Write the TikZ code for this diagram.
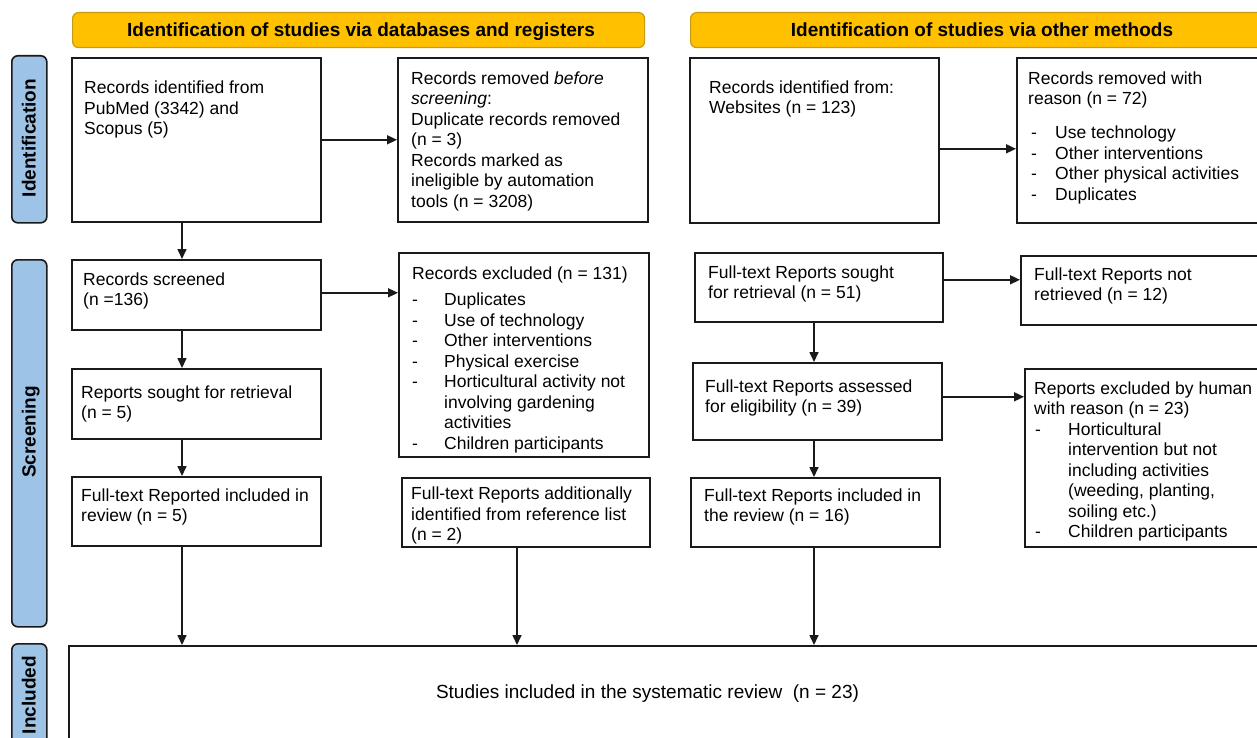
\documentclass[tikz,border=0pt]{standalone}
\usepackage{fontspec}
\setmainfont{Liberation Sans}
\usetikzlibrary{arrows.meta,calc}
\definecolor{hdr}{HTML}{FFC000}
\definecolor{hdrline}{HTML}{C89B10}
\definecolor{side}{HTML}{9DC3E6}
\definecolor{ink}{HTML}{1A1A1A}
\newcommand{\dashA}{\hspace*{3pt}\makebox[24pt][l]{-}}
\newcommand{\dashB}{\makebox[32pt][l]{-}}
\newcommand{\dashC}{\hspace*{1pt}\makebox[33pt][l]{-}}
\begin{document}
\begin{tikzpicture}[x=1pt,y=-1pt,
  box/.style={draw=ink,line width=1.6pt,fill=white,inner sep=0pt,anchor=north west},
  hdrbox/.style={draw=hdrline,line width=1.2pt,fill=hdr,rounded corners=6pt,inner sep=0pt,anchor=north west},
  sidebox/.style={draw=ink,line width=1.6pt,fill=side,rounded corners=6pt,inner sep=0pt,anchor=north west},
  txt/.style={inner sep=0pt,anchor=north west,align=left,font=\fontsize{17.5}{20.5}\selectfont},
  hdrtxt/.style={inner sep=0pt,anchor=base,font=\fontsize{19}{22}\selectfont\bfseries},
  sidetxt/.style={inner sep=0pt,anchor=base,rotate=90,font=\fontsize{19}{22}\selectfont\bfseries},
  arr/.style={draw=ink,line width=1.6pt,-{Triangle[length=10pt,width=9pt]}}]
\useasboundingbox (0,0) rectangle (1257,738);
\clip (0,0) rectangle (1257,738);
\fill[white] (0,0) rectangle (1257,738);

% headers
\node[hdrbox,minimum width=572pt,minimum height=35pt] (h1) at (72,12) {};
\node[hdrbox,minimum width=610pt,minimum height=35pt] (h2) at (690,12) {};
\node[hdrtxt] (h1t) at (361,37) {Identification of studies via databases and registers};
\node[hdrtxt] (h2t) at (982,37) {Identification of studies via other methods};

% side labels
\node[sidebox,minimum width=35pt,minimum height=167pt] (s1) at (11,55) {};
\node[sidebox,minimum width=35pt,minimum height=367pt] (s2) at (11,259) {};
\node[sidebox,minimum width=35pt,minimum height=157pt] (s3) at (11,643) {};
\node[sidetxt] (s1t) at (35.5,138) {Identification};
\node[sidetxt] (s2t) at (35.5,432) {Screening};
\node[sidetxt] (s3t) at (35.5,695) {Included};

% boxes
\node[box,minimum width=249pt,minimum height=164pt] (b1) at (71,57) {};
\node[box,minimum width=250pt,minimum height=164pt] (b2) at (397,57) {};
\node[box,minimum width=249pt,minimum height=165pt] (b3) at (689,57) {};
\node[box,minimum width=284pt,minimum height=165pt] (b4) at (1016,57) {};
\node[box,minimum width=249pt,minimum height=70pt] (b5) at (71,259) {};
\node[box,minimum width=249pt,minimum height=70pt] (b6) at (71,368) {};
\node[box,minimum width=249pt,minimum height=69pt] (b7) at (71,476) {};
\node[box,minimum width=250pt,minimum height=204pt] (b8) at (398,252) {};
\node[box,minimum width=248pt,minimum height=69pt] (b9) at (401,477) {};
\node[box,minimum width=248pt,minimum height=69pt] (b10) at (694,252) {};
\node[box,minimum width=280pt,minimum height=69pt] (b11) at (1020,255) {};
\node[box,minimum width=249pt,minimum height=77pt] (b12) at (692,362) {};
\node[box,minimum width=249pt,minimum height=69pt] (b13) at (690,477) {};
\node[box,minimum width=276pt,minimum height=178pt] (b14) at (1024,368) {};
\node[box,minimum width=1232pt,minimum height=155pt] (fin) at (68,645) {};

% texts
\node[txt] (t1) at (84,81) {Records identified from\\PubMed (3342) and\\Scopus (5)};
\node[txt] (t2) at (411,71.5) {Records removed \textit{before}\\\textit{screening}:\\Duplicate records removed\\(n = 3)\\Records marked as\\ineligible by automation\\tools (n = 3208)};
\node[txt] (t3) at (709,80.5) {Records identified from:\\Websites (n = 123)};
\node[txt] (t4) at (1028,71.5) {Records removed with\\reason (n = 72)\\[13.5pt]\dashA Use technology\\\dashA Other interventions\\\dashA Other physical activities\\\dashA Duplicates};
\node[txt] (t5) at (83,272.5) {Records screened\\(n =136)};
\node[txt] (t6) at (81,385.5) {Reports sought for retrieval\\(n = 5)};
\node[txt] (t7) at (81,488.5) {Full-text Reported included in\\review (n = 5)};
\node[txt] (t8) at (412,266.2) {Records excluded (n = 131)\\[6pt]\dashB Duplicates\\\dashB Use of technology\\\dashB Other interventions\\\dashB Physical exercise\\\dashB Horticultural activity not\\\hspace*{32pt}involving gardening\\\hspace*{32pt}activities\\\dashB Children participants};
\node[txt] (t9) at (411,486.8) {Full-text Reports additionally\\identified from reference list\\(n = 2)};
\node[txt] (t10) at (708,265.5) {Full-text Reports sought\\for retrieval (n = 51)};
\node[txt] (t11) at (1034,267.5) {Full-text Reports not\\retrieved (n = 12)};
\node[txt] (t12) at (705,379.5) {Full-text Reports assessed\\for eligibility (n = 39)};
\node[txt] (t13) at (704,488.5) {Full-text Reports included in\\the review (n = 16)};
\node[txt] (t14) at (1034,381.5) {Reports excluded by human\\with reason (n = 23)\\\dashC Horticultural\\\hspace*{34pt}intervention but not\\\hspace*{34pt}including activities\\\hspace*{34pt}(weeding, planting,\\\hspace*{34pt}soiling etc.)\\\dashC Children participants};
\node[inner sep=0pt,font=\fontsize{19}{22}\selectfont] (tf) at (647.5,694) {Studies included in the systematic review\ \ (n = 23)};

% connector columns
\coordinate (xa) at (182,0);
\coordinate (xb) at (517,0);
\coordinate (xc) at (814,0);

% horizontal arrows
\draw[arr] (b1.east) -- (b1.east -| b2.west);
\draw[arr] ([yshift=-8.5pt]b3.east) -- ([yshift=-8.5pt]b3.east -| b4.west);
\draw[arr] ([yshift=2pt]b5.east) -- ([yshift=2pt]b5.east -| b8.west);
\draw[arr] ([yshift=7.5pt]b10.east) -- ([yshift=7.5pt]b10.east -| b11.west);
\draw[arr] ([yshift=4.5pt]b12.east) -- ([yshift=4.5pt]b12.east -| b14.west);

% vertical arrows
\draw[arr] (b1.south -| xa) -- (b5.north -| xa);
\draw[arr] (b5.south -| xa) -- (b6.north -| xa);
\draw[arr] (b6.south -| xa) -- (b7.north -| xa);
\draw[arr] (b7.south -| xa) -- (fin.north -| xa);
\draw[arr] (b9.south -| xb) -- (fin.north -| xb);
\draw[arr] (b10.south -| xc) -- (b12.north -| xc);
\draw[arr] (b12.south -| xc) -- (b13.north -| xc);
\draw[arr] (b13.south -| xc) -- (fin.north -| xc);
\end{tikzpicture}
\end{document}
